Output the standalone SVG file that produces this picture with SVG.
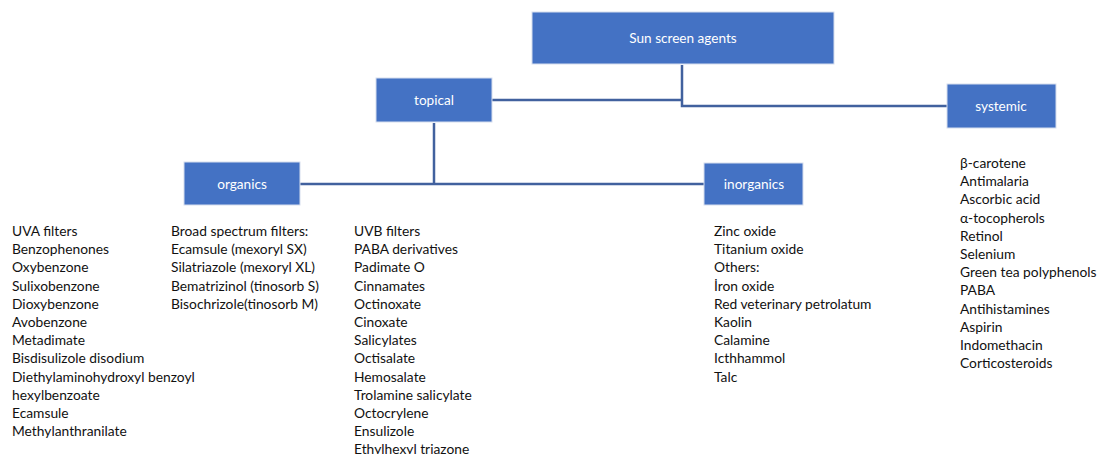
<svg xmlns="http://www.w3.org/2000/svg" width="1099" height="454" viewBox="0 0 1099 454">
<style>
.box{fill:#4472C4;stroke:#D6DEEE;stroke-width:1}
.lbl{font-family:Lato,"Open Sans","Liberation Sans",sans-serif;font-size:13.6px;fill:#FFFFFF;text-anchor:middle;dominant-baseline:central}
.lst{font-family:Lato,"Open Sans","Liberation Sans",sans-serif;font-size:13.8px;fill:#111111}
.con{stroke:#41619E;stroke-width:2.5;fill:none}
</style>
<rect width="1099" height="454" fill="#FFFFFF"/>
<g id="connectors">
<path class="con" d="M682,65 V106 H947"/>
<path class="con" d="M492,100 H682"/>
<path class="con" d="M434,123 V184"/>
<path class="con" d="M300,184 H704"/>
</g>
<g id="sunscreen"><rect class="box" x="532" y="12" width="302" height="52"/><text class="lbl" x="683" y="38">Sun screen agents</text></g>
<g id="topical"><rect class="box" x="376" y="78" width="116" height="44"/><text class="lbl" x="434" y="100">topical</text></g>
<g id="systemic"><rect class="box" x="947" y="84" width="109" height="44"/><text class="lbl" x="1001" y="106">systemic</text></g>
<g id="organics"><rect class="box" x="184" y="162" width="116" height="43"/><text class="lbl" x="242" y="184">organics</text></g>
<g id="inorganics"><rect class="box" x="704" y="163" width="99" height="42"/><text class="lbl" x="754" y="184">inorganics</text></g>
<g id="uva-list"><text class="lst" x="12" y="236"><tspan x="12">UVA filters</tspan><tspan x="12" dy="18.2">Benzophenones</tspan><tspan x="12" dy="18.2">Oxybenzone</tspan><tspan x="12" dy="18.2">Sulixobenzone</tspan><tspan x="12" dy="18.2">Dioxybenzone</tspan><tspan x="12" dy="18.2">Avobenzone</tspan><tspan x="12" dy="18.2">Metadimate</tspan><tspan x="12" dy="18.2">Bisdisulizole disodium</tspan><tspan x="12" dy="18.2">Diethylaminohydroxyl benzoyl</tspan><tspan x="12" dy="18.2">hexylbenzoate</tspan><tspan x="12" dy="18.2">Ecamsule</tspan><tspan x="12" dy="18.2">Methylanthranilate</tspan></text></g>
<g id="broad-list"><text class="lst" x="171" y="236"><tspan x="171">Broad spectrum filters:</tspan><tspan x="171" dy="18.2">Ecamsule (mexoryl SX)</tspan><tspan x="171" dy="18.2">Silatriazole (mexoryl XL)</tspan><tspan x="171" dy="18.2">Bematrizinol (tinosorb S)</tspan><tspan x="171" dy="18.2">Bisochrizole(tinosorb M)</tspan></text></g>
<g id="uvb-list"><text class="lst" x="354" y="236"><tspan x="354">UVB filters</tspan><tspan x="354" dy="18.2">PABA derivatives</tspan><tspan x="354" dy="18.2">Padimate O</tspan><tspan x="354" dy="18.2">Cinnamates</tspan><tspan x="354" dy="18.2">Octinoxate</tspan><tspan x="354" dy="18.2">Cinoxate</tspan><tspan x="354" dy="18.2">Salicylates</tspan><tspan x="354" dy="18.2">Octisalate</tspan><tspan x="354" dy="18.2">Hemosalate</tspan><tspan x="354" dy="18.2">Trolamine salicylate</tspan><tspan x="354" dy="18.2">Octocrylene</tspan><tspan x="354" dy="18.2">Ensulizole</tspan><tspan x="354" dy="18.2">Ethylhexyl triazone</tspan></text></g>
<g id="inorganic-list"><text class="lst" x="714" y="236"><tspan x="714">Zinc oxide</tspan><tspan x="714" dy="18.2">Titanium oxide</tspan><tspan x="714" dy="18.2">Others:</tspan><tspan x="714" dy="18.2">İron oxide</tspan><tspan x="714" dy="18.2">Red veterinary petrolatum</tspan><tspan x="714" dy="18.2">Kaolin</tspan><tspan x="714" dy="18.2">Calamine</tspan><tspan x="714" dy="18.2">Icthhammol</tspan><tspan x="714" dy="18.2">Talc</tspan></text></g>
<g id="systemic-list"><text class="lst" x="960" y="168"><tspan x="960">β-carotene</tspan><tspan x="960" dy="18.2">Antimalaria</tspan><tspan x="960" dy="18.2">Ascorbic acid</tspan><tspan x="960" dy="18.2">α-tocopherols</tspan><tspan x="960" dy="18.2">Retinol</tspan><tspan x="960" dy="18.2">Selenium</tspan><tspan x="960" dy="18.2">Green tea polyphenols</tspan><tspan x="960" dy="18.2">PABA</tspan><tspan x="960" dy="18.2">Antihistamines</tspan><tspan x="960" dy="18.2">Aspirin</tspan><tspan x="960" dy="18.2">Indomethacin</tspan><tspan x="960" dy="18.2">Corticosteroids</tspan></text></g>
</svg>
